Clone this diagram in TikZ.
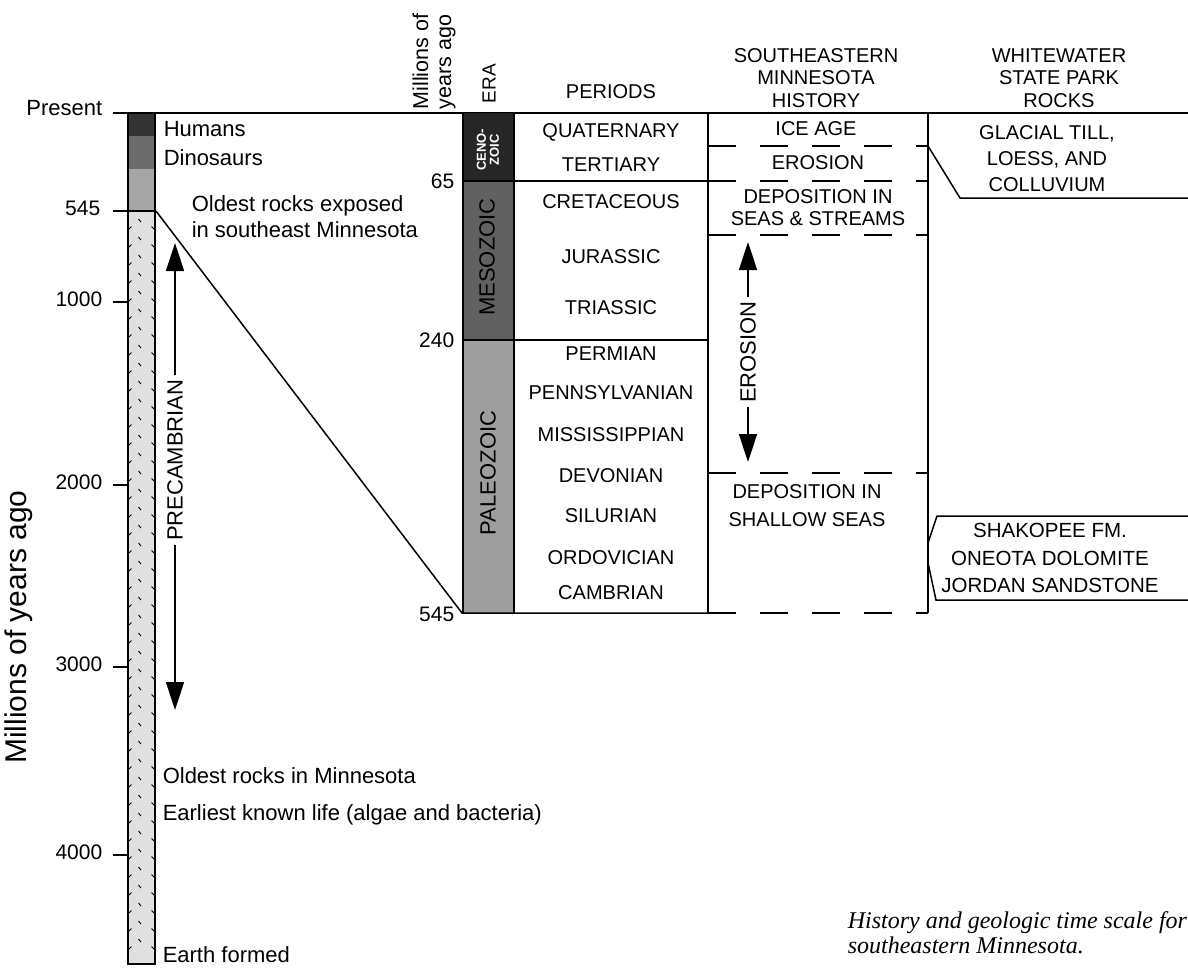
\documentclass[tikz,border=0pt]{standalone}
\usepackage{fontspec}
\setmainfont{Liberation Sans}
\newfontfamily\notefont{Liberation Serif}
\usepackage{tikz}
\usetikzlibrary{arrows.meta}
\tikzset{lbl/.style={inner sep=0pt, font=\fontsize{22}{26}\selectfont},
numlbl/.style={inner sep=0pt, font=\fontsize{21}{24}\selectfont},
caps/.style={inner sep=0pt, align=center, font=\fontsize{20}{22.5}\selectfont},
vlbl/.style={inner sep=0pt, rotate=90, font=\fontsize{22}{24}\selectfont},
dashline/.style={dash pattern=on 28pt off 24pt},
bigarrow/.style={{Triangle[length=28pt,width=18pt]}-{Triangle[length=28pt,width=18pt]}},
%default line for the chart
chart/.style={line width=1.5pt}}

\begin{document}
\begin{tikzpicture}[x=1pt,y=-1pt,chart]
\useasboundingbox (0,0) rectangle (1188,967);

% time column
\fill[black!80] (128,113) rectangle (155,136);
\fill[black!58] (128,136) rectangle (155,169);
\fill[black!35] (128,169) rectangle (155,211);
\fill[black!12] (128,211) rectangle (155,964);
\foreach \y in {219,237,...,951}
  {\draw[line width=0.9pt] (138.5,\y) -- ++(2.5,3);
   \draw[line width=0.9pt] (129,\y+10) -- ++(2.5,-2.5);
   \draw[line width=0.9pt] (154,\y+10) -- ++(-2.5,-2.5);}
\draw (128,113) rectangle (155,964);

% present line and ticks
\coordinate (present) at (113,113);
\coordinate (far) at (1188,113);
\draw (present) -- (far);
\node[lbl,anchor=base east] (presentlbl) at (103,115) {Present};
\coordinate (c545) at (156,211);
\draw (113,211) -- (c545);
\node[numlbl,anchor=base east] (t545) at (101,215) {545};
\foreach \y/\t in {302/1000,485/2000,667/3000,855/4000}
  {\draw (113,\y) -- (128,\y);
   \node[numlbl,anchor=base east] (t\t) at (103,\y+4) {\t};}
\node[vlbl,font=\fontsize{30}{32}\selectfont] (axis) at (19,627) {Millions of years ago};

%labels on the column
\node[lbl,anchor=base west] (humans) at (163,136) {Humans};
\node[lbl,anchor=base west] (dinos) at (163,165) {Dinosaurs};
\node[lbl,anchor=north west,align=left] (oldexp) at (191,195) {Oldest rocks exposed\\in southeast Minnesota};
\node[lbl,anchor=base west] (oldmn) at (162,783) {Oldest rocks in Minnesota};
\node[lbl,anchor=base west] (life) at (162,820) {Earliest known life (algae and bacteria)};
\node[lbl,anchor=base west] (earth) at (162,962) {Earth formed};
\draw[bigarrow] (175,243) -- node[vlbl,pos=0.465,fill=white,inner xsep=4pt] (precamb) {PRECAMBRIAN} (175,710);

% eras
\fill[black!85] (463,113) rectangle (514,181);
\fill[black!62] (463,181) rectangle (514,340);
\fill[black!38] (463,340) rectangle (514,613);
\draw (463,113) -- (463,613) (514,113) -- (514,613) (708,113) -- (708,613) (928,113) -- (928,613);
\coordinate (p545) at (462,613);
\draw (c545) -- (p545) -- (708,613);
\draw (463,181) -- (708,181) (463,340) -- (708,340);
\node[numlbl,anchor=base east] (m65) at (455,188) {65};
\node[numlbl,anchor=base east] (m240) at (455,347) {240};
\node[numlbl,anchor=base east] (m545) at (455,621) {545};

%headers
\node[numlbl,rotate=90,anchor=west,align=left,font=\fontsize{21.5}{23}\selectfont] (myhead) at (434,110) {Millions of\\years ago};
\node[caps,rotate=90,anchor=west,font=\fontsize{19}{21}\selectfont] (erahead) at (489,104) {ERA};
\node[caps] (perhead) at (611,92) {PERIODS};
\node[caps] (histhead) at (816,78) {SOUTHEASTERN\\MINNESOTA\\HISTORY};
\node[caps] (rockhead) at (1059,78) {WHITEWATER\\STATE PARK\\ROCKS};

\node[vlbl,text=white,align=center,font=\bfseries\fontsize{13}{13}\selectfont] (ceno) at (488,150) {CENO-\\ZOIC};
\node[vlbl] (meso) at (487,257) {MESOZOIC};
\node[vlbl] (paleo) at (488,473) {PALEOZOIC};

%periods
\foreach \y/\t [count=\i] in {132/QUATERNARY,165/TERTIARY,202/CRETACEOUS,257/JURASSIC,308/TRIASSIC,354/PERMIAN,393/PENNSYLVANIAN,435/MISSISSIPPIAN,476/DEVONIAN,516/SILURIAN,558/ORDOVICIAN,593/CAMBRIAN}
  \node[caps] (per\i) at (611,\y) {\t};

% history
\foreach \y in {146,181,235,473,613}
  \draw[dashline] (708,\y) -- (928,\y);
\node[caps] (iceage) at (816,129) {ICE AGE};
\node[caps] (eros1) at (818,163) {EROSION};
\node[caps,font=\fontsize{20}{22}\selectfont] (depseas) at (818,208) {DEPOSITION IN\\SEAS \& STREAMS};
\draw[bigarrow] (748,242) -- node[vlbl,fill=white,inner xsep=4pt] (eros2) {EROSION} (748,462);
\node[caps,font=\fontsize{20}{28}\selectfont] (depshallow) at (807,506) {DEPOSITION IN\\SHALLOW SEAS};

% rocks
\coordinate (g1) at (928,146);
\coordinate (g2) at (960,198);
\draw (g1) -- (g2) -- (1188,198);
\node[caps,font=\fontsize{20}{26}\selectfont] (glacial) at (1047,159) {GLACIAL TILL,\\LOESS, AND\\COLLUVIUM};
\draw (1188,516) -- (937,516) -- (928,543);
\draw (928,563) -- (936,600) -- (1188,600);
\node[caps,font=\fontsize{20.5}{27.5}\selectfont] (shakopee) at (1050,558) {SHAKOPEE FM.\\ONEOTA DOLOMITE\\JORDAN SANDSTONE};

%caption
\node[anchor=base west,inner sep=0pt,font=\notefont\itshape\fontsize{24}{26}\selectfont] (cap1) at (847,928) {History and geologic time scale for};
\node[anchor=base west,inner sep=0pt,font=\notefont\itshape\fontsize{24}{26}\selectfont] (cap2) at (847,953) {southeastern Minnesota.};

\end{tikzpicture}
\end{document}
